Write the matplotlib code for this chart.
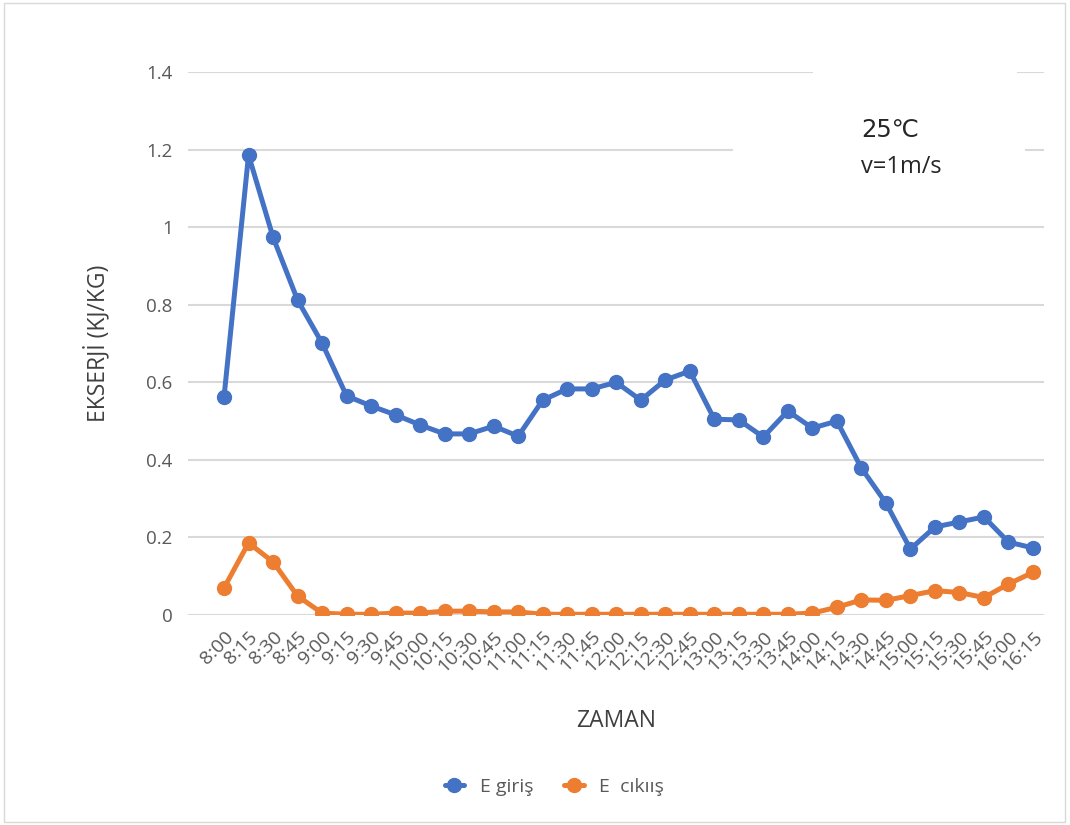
import numpy as np
import matplotlib
matplotlib.use("Agg")
from matplotlib import pyplot as plt
from matplotlib.patches import Rectangle

plt.rcParams['font.family'] = ['Open Sans', 'DejaVu Sans']

times = ['8:00', '8:15', '8:30', '8:45', '9:00', '9:15', '9:30', '9:45',
         '10:00', '10:15', '10:30', '10:45', '11:00', '11:15', '11:30', '11:45',
         '12:00', '12:15', '12:30', '12:45', '13:00', '13:15', '13:30', '13:45',
         '14:00', '14:15', '14:30', '14:45', '15:00', '15:15', '15:30', '15:45',
         '16:00', '16:15']
e_giris = [0.562, 1.186, 0.974, 0.812, 0.701, 0.565, 0.539, 0.516,
           0.490, 0.467, 0.467, 0.487, 0.461, 0.554, 0.583, 0.583,
           0.600, 0.554, 0.606, 0.629, 0.505, 0.503, 0.459, 0.526,
           0.482, 0.500, 0.379, 0.289, 0.170, 0.227, 0.240, 0.253,
           0.188, 0.173]
e_cikis = [0.070, 0.186, 0.137, 0.049, 0.005, 0.002, 0.002, 0.005,
           0.005, 0.010, 0.010, 0.008, 0.008, 0.002, 0.002, 0.002,
           0.002, 0.002, 0.002, 0.002, 0.002, 0.002, 0.002, 0.002,
           0.005, 0.020, 0.039, 0.038, 0.050, 0.063, 0.058, 0.045,
           0.080, 0.110]

blue = '#4472C4'
orange = '#ED7D31'
grey = '#595959'

fig = plt.figure(figsize=(10.7, 8.25), dpi=100)
ax = fig.add_axes([0.1757, 0.2545, 0.8, 0.6582])

x = np.arange(len(times))
ax.plot(x, e_giris, color=blue, lw=3.6, marker='o', ms=10, label='E giriş',
        solid_capstyle='round', zorder=4)
ax.plot(x, e_cikis, color=orange, lw=3.6, marker='o', ms=10, label='E  cıkıış',
        solid_capstyle='round', zorder=4)

ax.set_ylim(0, 1.4)
ax.set_xlim(-1.47, 33.45)
ax.set_yticks(np.arange(0, 1.41, 0.2))
ax.set_yticklabels(['0', '0.2', '0.4', '0.6', '0.8', '1', '1.2', '1.4'])
ax.set_xticks(x)
ax.set_xticklabels(times, rotation=45, ha='right', va='top', rotation_mode='anchor')
ax.tick_params(length=0, colors=grey, labelsize=13.5)
ax.tick_params(axis='x', pad=9, labelsize=14)
ax.tick_params(axis='y', pad=11)
ax.grid(axis='y', color='#D9D9D9', lw=1.5, zorder=0)
ax.set_axisbelow(True)
for s in ax.spines.values():
    s.set_visible(False)

# white text boxes hiding part of the gridlines
ax.add_patch(Rectangle((0.730, 0.985), 0.238, 0.03, transform=ax.transAxes,
                       facecolor='white', edgecolor='none', clip_on=False, zorder=1))
ax.add_patch(Rectangle((0.637, 0.845), 0.341, 0.025, transform=ax.transAxes,
                       facecolor='white', edgecolor='none', clip_on=False, zorder=1))

ax.set_xlabel('ZAMAN', fontsize=16.5, color='#404040', labelpad=24)
ax.set_ylabel('EKSERJİ (KJ/KG)', fontsize=16.5, color='#404040', labelpad=26)

fig.text(0.805, 0.842, '25℃', fontsize=17.5, color='#262626', va='center',
         family=['DejaVu Sans'])
fig.text(0.805, 0.797, 'v=1m/s', fontsize=17, color='#262626', va='center')

fig.legend(loc='center', bbox_to_anchor=(0.518, 0.046), ncol=2, frameon=False,
           fontsize=14, handlelength=1.0, handletextpad=0.8, columnspacing=1.6,
           labelcolor=grey)

fig.add_artist(Rectangle((0.004, 0.004), 0.991, 0.992, transform=fig.transFigure,
                         facecolor='none', edgecolor='#D9D9D9', lw=1))

fig.savefig('out.png', dpi=100)
